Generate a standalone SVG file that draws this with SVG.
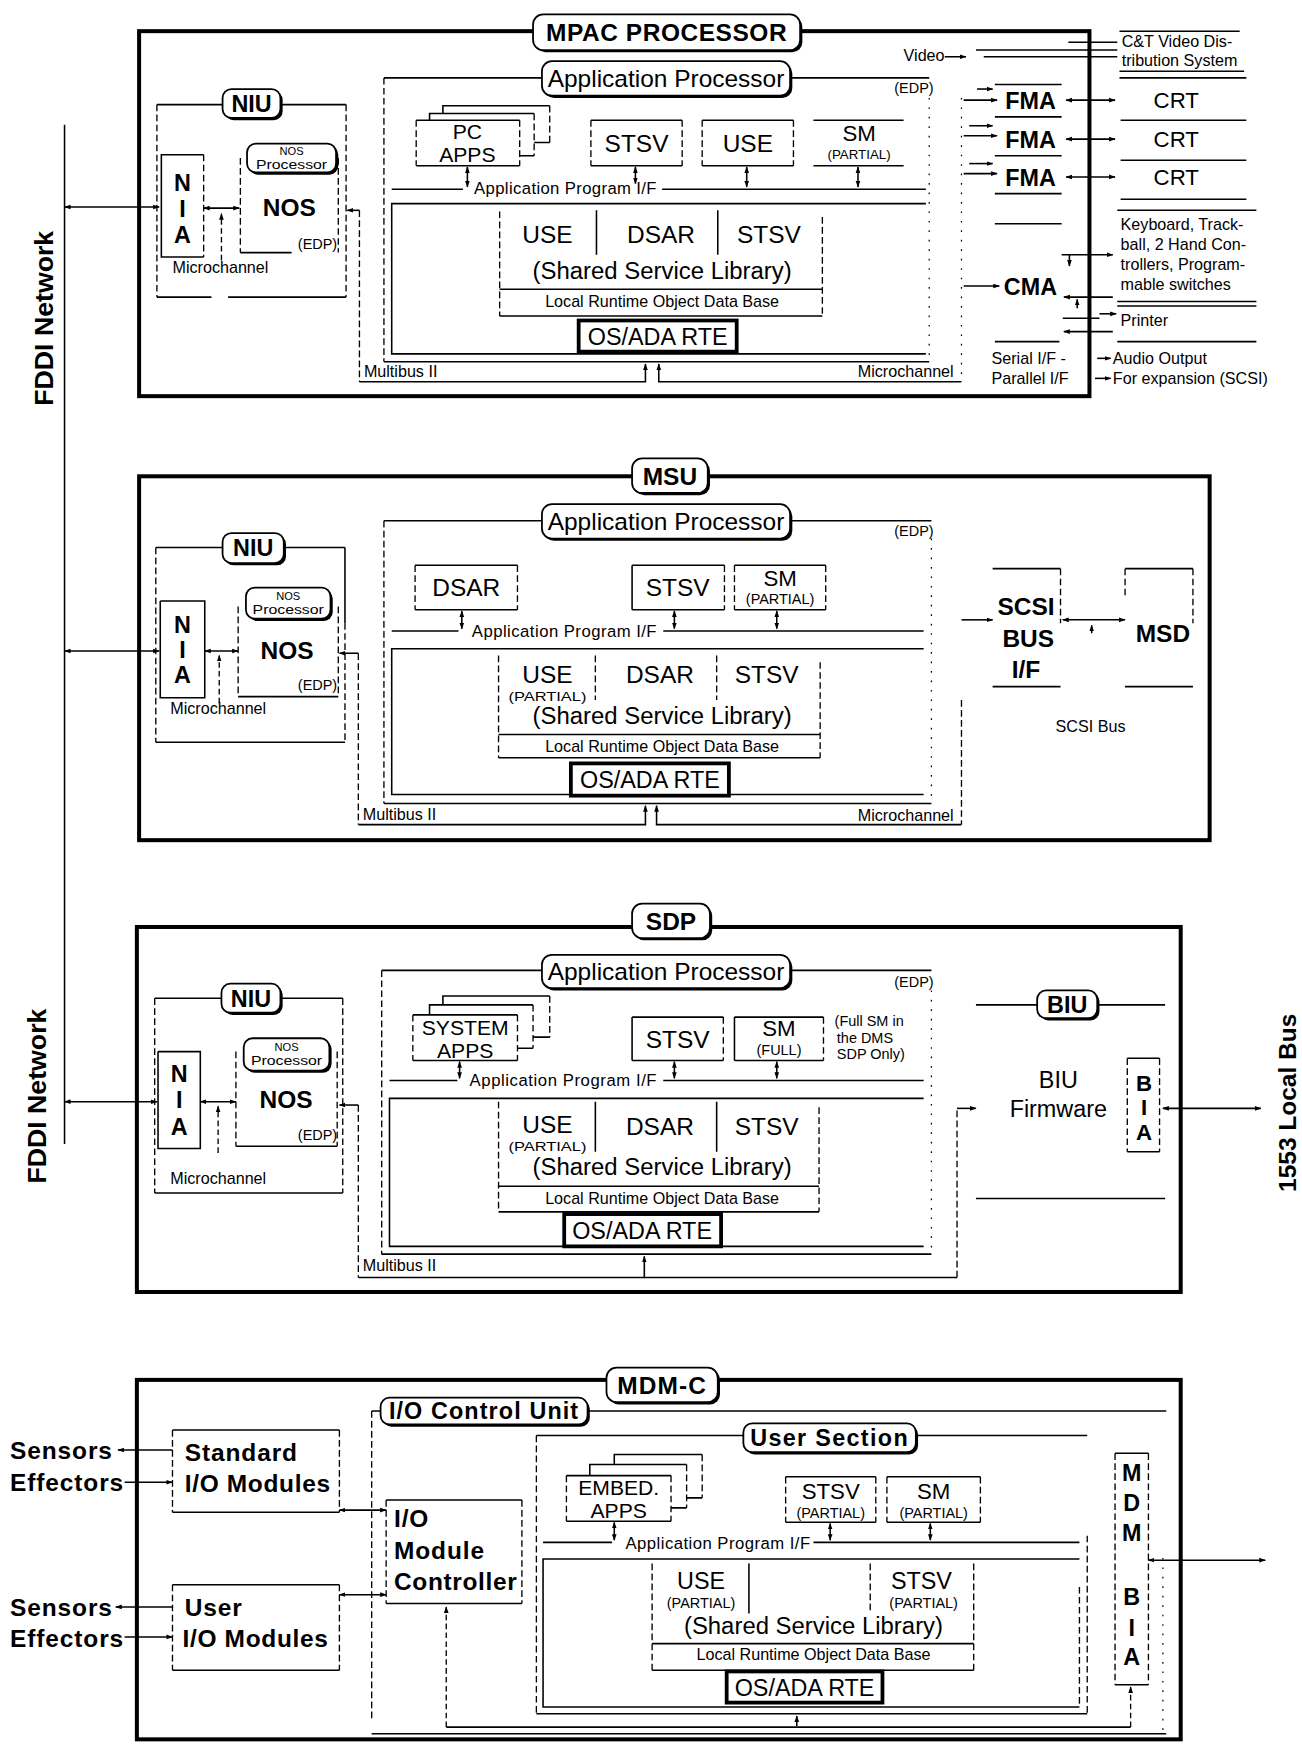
<svg xmlns="http://www.w3.org/2000/svg" width="1302" height="1745" viewBox="0 0 1302 1745">
<defs>
<style>
text{font-family:"Liberation Sans",Arial,Helvetica,sans-serif;fill:#000}
.b{font-weight:bold}
.m{text-anchor:middle}
.e{text-anchor:end}
.th{fill:none;stroke:#000;stroke-width:3.6}
.s{fill:none;stroke:#000;stroke-width:1.4}
.d{fill:none;stroke:#000;stroke-width:1.2;stroke-dasharray:6 3}
.f{fill:none;stroke:#000;stroke-width:1.1;stroke-dasharray:1.5 7}
.rt{fill:#fff;stroke:#000;stroke-width:3.4}
.tb{fill:#fff;stroke:#000;stroke-width:1.6}
.sh{fill:#000}
.a1{fill:none;stroke:#000;stroke-width:1.4;marker-end:url(#ah)}
.a2{fill:none;stroke:#000;stroke-width:1.4;marker-start:url(#ah);marker-end:url(#ah)}
.ad{fill:none;stroke:#000;stroke-width:1.2;stroke-dasharray:5 3;marker-end:url(#ah)}
.z10{font-size:10px}.z11{font-size:11.5px}.z12{font-size:12px}.z13{font-size:13px}.z14{font-size:14.5px}.z15{font-size:15px}
.z19{font-size:19px}.z20{font-size:20px}.z21{font-size:21px}.z22{font-size:22px}.z24{font-size:24px}
</style>
<marker id="ah" viewBox="0 0 10 10" refX="9" refY="5" markerWidth="6" markerHeight="6" orient="auto-start-reverse" markerUnits="userSpaceOnUse"><path d="M0,1.5L10,5L0,8.5z"/></marker>
</defs>
<rect width="1302" height="1745" fill="#fff"/>
<g transform="scale(1.11282)">

<g id="fddi-network">
<text class="b z24" transform="translate(48,286) rotate(-90)" text-anchor="middle">FDDI Network</text>
<text class="b z24" transform="translate(41,985) rotate(-90)" text-anchor="middle">FDDI Network</text>
</g>
<g id="local-bus-1553">
<text class="b z22" transform="translate(1165,991) rotate(-90)" text-anchor="middle">1553 Local Bus</text>
</g>

<!-- ================= MPAC ================= -->
<g id="mpac">
<rect class="th" x="125" y="28" width="854" height="328"/>
<rect class="sh" x="481" y="15" width="240" height="32" rx="9"/>
<rect class="tb" x="479" y="13" width="240" height="32" rx="9"/>
<text class="b m z22" x="599" y="37" style="letter-spacing:0.5px">MPAC PROCESSOR</text>
</g>
<g id="mpac-niu">
<path class="s" d="M141,94H200M253,94H311M141,267H190M205,267H311"/>
<path class="d" d="M141,94V267M311,94V267"/>
<rect class="sh" x="202" y="82" width="52" height="26" rx="8"/>
<rect class="tb" x="200" y="80" width="52" height="26" rx="8"/>
<text class="b m z21" x="226" y="101">NIU</text>
<text class="z14" x="155" y="245">Microchannel</text>
</g>
<g id="mpac-nia">
<path class="s" d="M183,139H145V231H183"/>
<path class="d" d="M183,139V231"/>
<text class="b m z21" x="164" y="172">N</text>
<text class="b m z21" x="164" y="195">I</text>
<text class="b m z21" x="164" y="218">A</text>
</g>
<g id="mpac-nos">
<path class="d" d="M216,142V227M304,142V227"/>
<path class="s" d="M216,227H262"/>
<rect class="sh" x="224" y="131" width="80" height="26" rx="8"/>
<rect class="tb" x="222" y="129" width="80" height="26" rx="8"/>
<text class="m z10" x="262" y="139">NOS</text>
<text class="m z11" x="262" y="152" textLength="64" lengthAdjust="spacingAndGlyphs">Processor</text>
<text class="b m z22" x="260" y="194">NOS</text>
<text class="e z13" x="303" y="224">(EDP)</text>
</g>
<g id="mpac-ap">
<path class="s" d="M345,70H487M710,70H835M345,325H835"/>
<path class="d" d="M345,70V325"/>
<path class="f" d="M835,88V320"/>
<rect class="sh" x="489" y="57" width="223" height="31" rx="9"/>
<rect class="tb" x="487" y="55" width="223" height="31" rx="9"/>
<text class="m z22" x="598.5" y="78.5">Application Processor</text>
<text class="e z13" x="839" y="84">(EDP)</text>
</g>
<g id="mpac-pc-apps">
<path class="s" d="M374,108H467M374,149H467M386,108V102H480M467,140H480M398,102V95H494M480,128H494"/>
<path class="d" d="M374,108V149M467,108V149M480,102V140M494,95V128"/>
<text class="m z19" x="420" y="125">PC</text>
<text class="m z19" x="420" y="146">APPS</text>
</g>
<g id="mpac-stsv">
<path class="s" d="M531,108H613M531,149H613"/>
<path class="d" d="M531,108V149M613,108V149"/>
<text class="m z22" x="572" y="137">STSV</text>
</g>
<g id="mpac-use">
<path class="s" d="M631,108H713M631,149H713"/>
<path class="d" d="M631,108V149M713,108V149"/>
<text class="m z22" x="672" y="137">USE</text>
</g>
<g id="mpac-sm">
<path class="s" d="M731,108H812M731,149H812"/>
<text class="m z20" x="772" y="127">SM</text>
<text class="m z12" x="772" y="143">(PARTIAL)</text>
</g>
<g id="mpac-api">
<path class="s" d="M352,170H416M595,170H832"/>
<text class="z15" x="426" y="174.5" textLength="164" lengthAdjust="spacing">Application Program I/F</text>
</g>
<g id="mpac-ssl">
<path class="s" d="M832,183H352V318H832"/>
<path class="d" d="M449,190V284M739,195V284"/>
<path class="s" d="M536,189V229M645,189V229M449,260H739M449,284H739"/>
<text class="m z22" x="492" y="218">USE</text>
<text class="m z22" x="594" y="218">DSAR</text>
<text class="m z22" x="691" y="218">STSV</text>
<text class="m" x="595" y="251" style="font-size:21.5px">(Shared Service Library)</text>
<text class="m z14" x="595" y="276">Local Runtime Object Data Base</text>
</g>
<g id="mpac-rte">
<rect class="rt" x="520" y="288" width="142" height="28"/>
<text class="m z21" x="591" y="310">OS/ADA RTE</text>
</g>
<g id="mpac-bus">
<text class="z14" x="327" y="339">Multibus II</text>
<text class="e z14" x="857" y="339">Microchannel</text>
<path class="f" d="M864,88V340"/>
</g>
<g id="mpac-video">
<text class="z14" x="812" y="55">Video</text>
<path class="s" d="M960,38H1004M877,45H1004M884,51H1004"/>
<path class="s" d="M1006,28H1114M1006,64H1118M1006,70H1120"/>
<text class="z14" x="1008" y="42">C&amp;T Video Dis-</text>
<text class="z14" x="1008" y="59">tribution System</text>
</g>
<g id="mpac-fma">
<path class="s" d="M894,76H954M894,105H954M894,140H954M894,174H954M894,201H954"/>
<text class="b m z21" x="926" y="98">FMA</text>
<text class="b m z21" x="926" y="133">FMA</text>
<text class="b m z21" x="926" y="167">FMA</text>
</g>
<g id="mpac-crt">
<path class="s" d="M1007,108H1120M1007,144H1120M1007,179H1120"/>
<text class="m z20" x="1057" y="97">CRT</text>
<text class="m z20" x="1057" y="132">CRT</text>
<text class="m z20" x="1057" y="166">CRT</text>
</g>
<g id="mpac-cma">
<text class="b m z21" x="926" y="265">CMA</text>
<path class="s" d="M894,307H952M955,286H988"/>
<text class="z14" x="891" y="327">Serial I/F -</text>
<text class="z14" x="891" y="345">Parallel I/F</text>
</g>
<g id="mpac-peripherals">
<path class="s" d="M1004,189H1129M1004,271H1129M1004,275H1129M1004,307H1129"/>
<text class="z14" x="1007" y="207">Keyboard, Track-</text>
<text class="z14" x="1007" y="225">ball, 2 Hand Con-</text>
<text class="z14" x="1007" y="243">trollers, Program-</text>
<text class="z14" x="1007" y="261">mable switches</text>
<text class="z14" x="1007" y="293">Printer</text>
<text class="z14" x="1000" y="327">Audio Output</text>
<text class="z14" x="1000" y="345">For expansion (SCSI)</text>
</g>

<!-- ================= MSU ================= -->
<g id="msu">
<rect class="th" x="125" y="428" width="962" height="327"/>
<rect class="sh" x="570" y="414" width="68" height="31" rx="9"/>
<rect class="tb" x="568" y="412" width="68" height="31" rx="9"/>
<text class="b m z22" x="602" y="436">MSU</text>
</g>
<g id="msu-niu">
<path class="s" d="M140,492H200M255,492H310M140,667H310M310,492V560"/>
<path class="d" d="M140,492V667M310,560V667"/>
<rect class="sh" x="202" y="481" width="55" height="27" rx="8"/>
<rect class="tb" x="200" y="479" width="55" height="27" rx="8"/>
<text class="b m z21" x="227.5" y="500">NIU</text>
<text class="z14" x="153" y="642">Microchannel</text>
</g>
<g id="msu-nia">
<path class="s" d="M144,540H184V627H144V540"/>
<text class="b m z21" x="164" y="569">N</text>
<text class="b m z21" x="164" y="591">I</text>
<text class="b m z21" x="164" y="614">A</text>
</g>
<g id="msu-nos">
<path class="d" d="M214,545V626M304,545V626"/>
<path class="s" d="M214,626H304"/>
<rect class="sh" x="223" y="530" width="76" height="28" rx="8"/>
<rect class="tb" x="221" y="528" width="76" height="28" rx="8"/>
<text class="m z10" x="259" y="539">NOS</text>
<text class="m z11" x="259" y="552" textLength="64" lengthAdjust="spacingAndGlyphs">Processor</text>
<text class="b m z22" x="258" y="592">NOS</text>
<text class="e z13" x="303" y="620">(EDP)</text>
</g>
<g id="msu-ap">
<path class="s" d="M345,468H487M710,468H837M345,722H837"/>
<path class="d" d="M345,468V722"/>
<path class="f" d="M837,484V720"/>
<rect class="sh" x="489" y="455" width="223" height="31" rx="9"/>
<rect class="tb" x="487" y="453" width="223" height="31" rx="9"/>
<text class="m z22" x="598.5" y="476">Application Processor</text>
<text class="e z13" x="839" y="482">(EDP)</text>
</g>
<g id="msu-dsar">
<path class="s" d="M373,508H465M373,548H465"/>
<path class="d" d="M373,508V548M465,508V548"/>
<text class="m z22" x="419" y="536">DSAR</text>
</g>
<g id="msu-stsv">
<path class="s" d="M568,508H651M568,548H651M568,508V548"/>
<path class="d" d="M651,508V548"/>
<text class="m z22" x="609" y="536">STSV</text>
</g>
<g id="msu-sm">
<path class="s" d="M660,508H742M660,548H742"/>
<path class="d" d="M660,508V548M742,508V548"/>
<text class="m z20" x="701" y="527">SM</text>
<text class="m z13" x="701" y="543">(PARTIAL)</text>
</g>
<g id="msu-api">
<path class="s" d="M352,567H412M596,567H830"/>
<text class="z15" x="424" y="572" textLength="166" lengthAdjust="spacing">Application Program I/F</text>
</g>
<g id="msu-ssl">
<path class="s" d="M830,583H352V714H830"/>
<path class="d" d="M448,589V681M737,595V681M535,589V629M644,589V629"/>
<path class="s" d="M448,660H737M448,681H737"/>
<text class="m z22" x="492" y="614">USE</text>
<text class="m z12" x="492" y="630" textLength="70" lengthAdjust="spacingAndGlyphs">(PARTIAL)</text>
<text class="m z22" x="593" y="614">DSAR</text>
<text class="m z22" x="689" y="614">STSV</text>
<text class="m" x="595" y="651" style="font-size:21.5px">(Shared Service Library)</text>
<text class="m z14" x="595" y="676">Local Runtime Object Data Base</text>
</g>
<g id="msu-rte">
<rect class="rt" x="513" y="686" width="142" height="29"/>
<text class="m z21" x="584" y="708">OS/ADA RTE</text>
</g>
<g id="msu-bus">
<text class="z14" x="326" y="737">Multibus II</text>
<text class="e z14" x="857" y="738">Microchannel</text>
</g>
<g id="msu-scsi-if">
<path class="s" d="M892,511H953M892,617H953"/>
<path class="d" d="M953,511V560"/>
<text class="b m z22" x="922" y="553">SCSI</text>
<text class="b m z22" x="924" y="581">BUS</text>
<text class="b m z22" x="922" y="609">I/F</text>
<text class="m z14" x="980" y="658">SCSI Bus</text>
</g>
<g id="msu-msd">
<path class="s" d="M1011,511H1072M1011,617H1072"/>
<path class="d" d="M1072,511V560M1011,511V535"/>
<text class="b m z22" x="1045" y="577">MSD</text>
</g>

<!-- ================= SDP ================= -->
<g id="sdp">
<rect class="th" x="123" y="833" width="938" height="328"/>
<rect class="sh" x="570" y="814" width="70" height="31" rx="9"/>
<rect class="tb" x="568" y="812" width="70" height="31" rx="9"/>
<text class="b m z22" x="603" y="836">SDP</text>
</g>
<g id="sdp-niu">
<path class="s" d="M139,897H199M252,897H308M139,1072H308"/>
<path class="d" d="M139,897V1072M308,897V1072"/>
<rect class="sh" x="201" y="886" width="53" height="26" rx="8"/>
<rect class="tb" x="199" y="884" width="53" height="26" rx="8"/>
<text class="b m z21" x="225.5" y="905">NIU</text>
<text class="z14" x="153" y="1064">Microchannel</text>
</g>
<g id="sdp-nia">
<path class="s" d="M142,945H180V1032H142V945"/>
<text class="b m z21" x="161" y="972">N</text>
<text class="b m z21" x="161" y="996">I</text>
<text class="b m z21" x="161" y="1020">A</text>
</g>
<g id="sdp-nos">
<path class="d" d="M212,945V1030M303,945V1030"/>
<path class="s" d="M212,1030H303"/>
<rect class="sh" x="221" y="935" width="77" height="29" rx="8"/>
<rect class="tb" x="219" y="933" width="77" height="29" rx="8"/>
<text class="m z10" x="257.5" y="944">NOS</text>
<text class="m z11" x="257.5" y="957" textLength="64" lengthAdjust="spacingAndGlyphs">Processor</text>
<text class="b m z22" x="257" y="996">NOS</text>
<text class="e z13" x="303" y="1024">(EDP)</text>
</g>
<g id="sdp-ap">
<path class="s" d="M343,872H487M710,872H837M343,1127H837"/>
<path class="d" d="M343,872V1127"/>
<path class="f" d="M837,890V1125"/>
<rect class="sh" x="489" y="860" width="223" height="30" rx="9"/>
<rect class="tb" x="487" y="858" width="223" height="30" rx="9"/>
<text class="m z22" x="598.5" y="881">Application Processor</text>
<text class="e z13" x="839" y="887">(EDP)</text>
</g>
<g id="sdp-system-apps">
<path class="s" d="M371,912H465M371,953H465M386,912V903H479M465,942H479M398,903V895H494M479,932H494"/>
<path class="d" d="M371,912V953M465,912V953M479,903V942M494,895V932"/>
<text class="m z19" x="418" y="930">SYSTEM</text>
<text class="m z19" x="418" y="951">APPS</text>
</g>
<g id="sdp-stsv">
<path class="s" d="M568,914H650M568,953H650M568,914V953"/>
<path class="d" d="M650,914V953"/>
<text class="m z22" x="609" y="942">STSV</text>
</g>
<g id="sdp-sm">
<path class="s" d="M660,914H740M660,953H740M660,914V953"/>
<path class="d" d="M740,914V953"/>
<text class="m z20" x="700" y="931">SM</text>
<text class="m z13" x="700" y="948">(FULL)</text>
<text class="z13" x="750" y="922">(Full SM in</text>
<text class="z13" x="752" y="937">the DMS</text>
<text class="z13" x="752" y="952">SDP Only)</text>
</g>
<g id="sdp-api">
<path class="s" d="M350,971H411M596,971H830"/>
<text class="z15" x="422" y="976" textLength="168" lengthAdjust="spacing">Application Program I/F</text>
</g>
<g id="sdp-ssl">
<path class="s" d="M830,987H350V1120H830"/>
<path class="d" d="M448,990V1089M736,995V1089"/>
<path class="s" d="M535,990V1035M644,990V1035M448,1066H736M448,1089H736"/>
<text class="m z22" x="492" y="1018">USE</text>
<text class="m z12" x="492" y="1034" textLength="70" lengthAdjust="spacingAndGlyphs">(PARTIAL)</text>
<text class="m z22" x="593" y="1020">DSAR</text>
<text class="m z22" x="689" y="1020">STSV</text>
<text class="m" x="595" y="1056" style="font-size:21.5px">(Shared Service Library)</text>
<text class="m z14" x="595" y="1082">Local Runtime Object Data Base</text>
</g>
<g id="sdp-rte">
<rect class="rt" x="507" y="1091" width="141" height="29"/>
<text class="m z21" x="577" y="1113">OS/ADA RTE</text>
</g>
<g id="sdp-bus">
<text class="z14" x="326" y="1142">Multibus II</text>
</g>
<g id="sdp-biu">
<path class="s" d="M877,903H932M986,903H1047M877,1077H1047"/>
<rect class="sh" x="934" y="892" width="54" height="25" rx="8"/>
<rect class="tb" x="932" y="890" width="54" height="25" rx="8"/>
<text class="b m z21" x="959" y="910">BIU</text>
<text class="m z21" x="951" y="978">BIU</text>
<text class="m z21" x="951" y="1004">Firmware</text>
</g>
<g id="sdp-bia">
<path class="s" d="M1013,951H1042M1013,1035H1042"/>
<path class="d" d="M1013,951V1035M1042,951V1035"/>
<text class="b m z20" x="1028" y="980">B</text>
<text class="b m z20" x="1028" y="1002">I</text>
<text class="b m z20" x="1028" y="1024">A</text>
</g>

<!-- ================= MDM-C ================= -->
<g id="mdmc">
<rect class="th" x="123" y="1240" width="938" height="323"/>
<rect class="sh" x="547" y="1231" width="100" height="31" rx="9"/>
<rect class="tb" x="545" y="1229" width="100" height="31" rx="9"/>
<text class="b m z22" x="595" y="1253" style="letter-spacing:1px">MDM-C</text>
</g>
<g id="sensors-effectors">
<text class="b z22" x="9" y="1311" style="letter-spacing:0.8px">Sensors</text>
<text class="b z22" x="9" y="1340" style="letter-spacing:0.8px">Effectors</text>
<text class="b z22" x="9" y="1452" style="letter-spacing:0.8px">Sensors</text>
<text class="b z22" x="9" y="1480" style="letter-spacing:0.8px">Effectors</text>
</g>
<g id="standard-io">
<path class="s" d="M155,1285H305M155,1359H305"/>
<path class="d" d="M155,1285V1359M305,1285V1359"/>
<text class="b z22" x="166" y="1313" style="letter-spacing:0.8px">Standard</text>
<text class="b z22" x="166" y="1341" style="letter-spacing:0.6px">I/O Modules</text>
</g>
<g id="user-io">
<path class="s" d="M155,1424H305M155,1501H305"/>
<path class="d" d="M155,1424V1501M305,1424V1501"/>
<text class="b z22" x="166" y="1452" style="letter-spacing:0.8px">User</text>
<text class="b z22" x="164" y="1480" style="letter-spacing:0.6px">I/O Modules</text>
</g>
<g id="io-control-unit">
<path class="d" d="M334,1268V1545"/>
<path class="s" d="M334,1268H342M528,1268H1048"/>
<rect class="sh" x="344" y="1258" width="186" height="24" rx="8"/>
<rect class="tb" x="342" y="1256" width="186" height="24" rx="8"/>
<text class="b m z21" x="435" y="1275.5" style="letter-spacing:1px">I/O Control Unit</text>
</g>
<g id="io-module-controller">
<path class="s" d="M347,1348H469M347,1441H469"/>
<path class="d" d="M347,1348V1441M469,1348V1441"/>
<text class="b z22" x="354" y="1372" style="letter-spacing:0.8px">I/O</text>
<text class="b z22" x="354" y="1401" style="letter-spacing:0.8px">Module</text>
<text class="b z22" x="354" y="1429" style="letter-spacing:0.6px">Controller</text>
</g>
<g id="user-section">
<path class="s" d="M482,1290H668M823,1290H977M482,1540H977"/>
<path class="d" d="M482,1290V1540M977,1380V1540"/>
<rect class="sh" x="670" y="1281" width="155" height="26" rx="8"/>
<rect class="tb" x="668" y="1279" width="155" height="26" rx="8"/>
<text class="b m z21" x="745.5" y="1299.5" style="letter-spacing:1.2px">User Section</text>
</g>
<g id="embed-apps">
<path class="s" d="M509,1326H603M509,1367H603M530,1326V1316H617M603,1355H617M552,1316V1307H631M617,1346H631"/>
<path class="d" d="M509,1326V1367M603,1326V1367M617,1316V1355M631,1307V1346"/>
<text class="m z19" x="556" y="1343">EMBED.</text>
<text class="m z19" x="556" y="1364">APPS</text>
</g>
<g id="mdmc-stsv">
<path class="s" d="M706,1327H787M706,1368H787"/>
<path class="d" d="M706,1327V1368M787,1327V1368"/>
<text class="m z20" x="746.5" y="1347">STSV</text>
<text class="m z13" x="746.5" y="1364">(PARTIAL)</text>
</g>
<g id="mdmc-sm">
<path class="s" d="M797,1327H881M797,1368H881"/>
<path class="d" d="M797,1327V1368M881,1327V1368"/>
<text class="m z20" x="839" y="1347">SM</text>
<text class="m z13" x="839" y="1364">(PARTIAL)</text>
</g>
<g id="mdmc-api">
<path class="s" d="M488,1386H550M731,1386H970"/>
<text class="z15" x="562" y="1392" textLength="166" lengthAdjust="spacing">Application Program I/F</text>
</g>
<g id="mdmc-ssl">
<path class="s" d="M970,1401H488V1534H970"/>
<path class="d" d="M970,1426V1534M586,1405V1501M875,1405V1501M782,1405V1450"/>
<path class="s" d="M673,1405V1450M586,1477H875M586,1501H875"/>
<text class="m z21" x="630" y="1428">USE</text>
<text class="m z13" x="630" y="1445">(PARTIAL)</text>
<text class="m z21" x="828" y="1428">STSV</text>
<text class="m z13" x="830" y="1445">(PARTIAL)</text>
<text class="m" x="731" y="1468" style="font-size:21.5px">(Shared Service Library)</text>
<text class="m z14" x="731" y="1492">Local Runtime Object Data Base</text>
</g>
<g id="mdmc-rte">
<rect class="rt" x="653" y="1502" width="140" height="28"/>
<text class="m z21" x="723" y="1524">OS/ADA RTE</text>
</g>
<g id="mdm-bia">
<path class="s" d="M1002,1306H1032M1002,1514H1032"/>
<path class="d" d="M1002,1306V1514M1032,1306V1514"/>
<path class="f" d="M1045,1400V1558"/>
<text class="b m z21" x="1017" y="1331">M</text>
<text class="b m z21" x="1017" y="1358">D</text>
<text class="b m z21" x="1017" y="1385">M</text>
<text class="b m z21" x="1017" y="1442">B</text>
<text class="b m z21" x="1017" y="1470">I</text>
<text class="b m z21" x="1017" y="1496">A</text>
</g>

<!-- ================= CONNECTORS ================= -->
<g id="connectors">
<path class="s" d="M58,112V1028"/>
<path class="a2" d="M58,186H143"/>
<path class="a2" d="M183,187H215"/>
<path class="ad" d="M199,234V192"/>
<path class="a1" d="M323,189H312"/>
<path class="d" d="M323,189V343"/>
<path class="a1" d="M323,343H580V327"/>
<path class="a1" d="M864,343H592V327"/>
<path class="a2" d="M420,150V168"/>
<path class="a2" d="M571,150V165"/>
<path class="a2" d="M671,150V168"/>
<path class="a2" d="M771,150V168"/>
<path class="a1" d="M849,51H868"/>
<path class="a1" d="M866,90H896"/>
<path class="a1" d="M866,122H896"/>
<path class="a1" d="M866,156H896"/>
<path class="a1" d="M878,80H892"/>
<path class="a1" d="M871,113H892"/>
<path class="a1" d="M871,147H892"/>
<path class="a2" d="M958,90H1002"/>
<path class="a2" d="M958,125H1002"/>
<path class="a2" d="M958,159H1002"/>
<path class="a1" d="M866,257H898"/>
<path class="a1" d="M954,229H1000"/>
<path class="a1" d="M961,229V239"/>
<path class="a1" d="M1000,267H956"/>
<path class="a1" d="M968,277V269"/>
<path class="a1" d="M988,282H1003"/>
<path class="a1" d="M1000,298H956"/>
<path class="a1" d="M986,322H998"/>
<path class="a1" d="M984,340H998"/>
<path class="a2" d="M58,585H143"/>
<path class="a2" d="M184,585H214"/>
<path class="ad" d="M197,632V589"/>
<path class="a1" d="M322,587H305"/>
<path class="d" d="M322,587V741"/>
<path class="a1" d="M322,741H580V724"/>
<path class="a1" d="M864,741H590V724"/>
<path class="d" d="M864,629V741"/>
<path class="a2" d="M415,549V565"/>
<path class="a2" d="M606,549V565"/>
<path class="a2" d="M698,549V565"/>
<path class="a1" d="M864,557H892"/>
<path class="a2" d="M955,557H1011"/>
<path class="a1" d="M981,569V562"/>
<path class="a2" d="M58,990H141"/>
<path class="a2" d="M180,990H212"/>
<path class="ad" d="M196,1036V994"/>
<path class="a1" d="M322,993H305"/>
<path class="d" d="M322,993V1148"/>
<path class="a1" d="M322,1148H579V1129"/>
<path class="s" d="M579,1148H860"/>
<path class="d" d="M860,1148V996"/>
<path class="a1" d="M860,996H877"/>
<path class="a2" d="M413,954V969"/>
<path class="a2" d="M606,954V969"/>
<path class="a2" d="M698,954V969"/>
<path class="a2" d="M1045,996H1133"/>
<path class="a1" d="M155,1303H106"/>
<path class="a1" d="M112,1332H155"/>
<path class="a1" d="M155,1444H104"/>
<path class="a1" d="M112,1471H155"/>
<path class="a2" d="M305,1357H347"/>
<path class="a2" d="M305,1433H347"/>
<path class="ad" d="M401,1552V1444"/>
<path class="s" d="M401,1552H1016M334,1558H1048"/>
<path class="a1" d="M716,1551V1542"/>
<path class="a2" d="M552,1368V1384"/>
<path class="a2" d="M746,1369V1384"/>
<path class="a2" d="M836,1369V1384"/>
<path class="a2" d="M1032,1402H1137"/>
<path class="ad" d="M1016,1552V1516"/>
</g>
</g>
</svg>
